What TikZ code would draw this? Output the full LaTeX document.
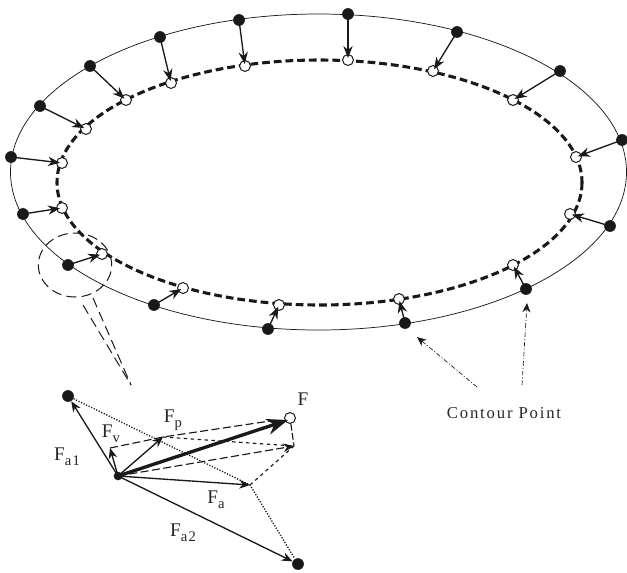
\documentclass[tikz,border=0pt]{standalone}
\usepackage{fontspec}
\setmainfont{Liberation Serif}
\usetikzlibrary{arrows.meta,backgrounds,shapes.geometric}
\newcommand{\fsub}[2]{#1\raisebox{-.6ex}{\addfontfeature{LetterSpace=8}\fontsize{11}{11}\selectfont #2}}
\tikzset{
  contourpt/.style={circle,fill=black!90,inner sep=0pt,minimum size=8.8pt},
  targetpt/.style={circle,draw=black!90,fill=white,line width=.75pt,inner sep=0pt,minimum size=8.2pt},
  pull/.style={-{Stealth[length=9pt,width=7pt]},line width=1pt,black!90},
  force/.style={-{Stealth[length=8pt,width=6.5pt]},line width=1pt,black!90},
  longdash/.style={black!90,line width=.85pt,dash pattern=on 6pt off 2.6pt},
  shortdash/.style={black!90,line width=.85pt,dash pattern=on 2.6pt off 2.6pt},
  dotline/.style={black!90,line width=1pt,dash pattern=on .9pt off 1.2pt},
  leader/.style={black!90,line width=.5pt,dash pattern=on 3.5pt off 1.5pt on .7pt off 1.5pt,
    -{Stealth[length=7pt,width=6pt]}},
  zoomline/.style={black!90,line width=.75pt,dash pattern=on 7.5pt off 4pt},
  flabel/.style={inner sep=0pt,black!85,font=\fontsize{14.5}{16}\selectfont},
}
\begin{document}
\begin{tikzpicture}[x=0.75pt,y=-0.75pt]
\useasboundingbox (0,0) rectangle (627,572);
% contour points and where they move to
\foreach \n/\ox/\oy/\ix/\iy in {1/348/14/348/60,2/457/32/433/71,3/560/71/513/100,
  4/622/140/576/157,5/610/226/570/214,6/526/289/513/265,7/405/323/399/299,
  8/268/329/279/305,9/154/305/183/288,10/68/265/102/254,11/23/214/62/208,
  12/11/157/62/163,13/40/106/86/129,14/90/66/126/100,15/160/37/171/83,16/239/20/245/66}{
  \node[contourpt] (o\n) at (\ox,\oy) {};
  \node[targetpt] (i\n) at (\ix,\iy) {};
  \draw[pull,shorten >=1.5pt] (o\n.center) -- (i\n.center);
}
\begin{scope}[on background layer]
\draw[black!90,line width=.55pt] (318.5,172) ellipse [x radius=308,y radius=158];
\draw[black!90,line width=2.3pt,dash pattern=on 5.8pt off 3pt] (319.5,182.5) ellipse [x radius=262.5,y radius=122.5];
\end{scope}
% close-up circle and its two lines
\node[draw,zoomline,ellipse,minimum width=55pt,minimum height=48pt,inner sep=0pt] (lens) at (75,265) {};
\coordinate (lensend) at (131,385);
\draw[zoomline] (83,305) -- (lensend);
\draw[zoomline] (93,298) -- (lensend);
% forces on one contour point
\node[contourpt,minimum size=6.5pt] (base) at (118,476) {};
\node[contourpt] (fa1) at (68,396) {};
\node[contourpt] (fa2) at (298,564) {};
\node[targetpt] (fend) at (290,418) {};
\coordinate (fa) at (250,485);
\coordinate (fp) at (163,437);
\coordinate (fv) at (110,448);
\coordinate (fsum) at (294,446);
\draw[dotline] (fa1) -- (fa) -- (fa2);
\draw[longdash] (fv) -- (fp) -- (270,421);
\draw[shortdash] (fp) -- (fsum);
\draw[shortdash] (fa) -- (fsum);
\draw[longdash,dash pattern=on 5pt off 2pt] (fend) -- (fsum);
\draw[longdash,-{Stealth[length=8pt,width=6.5pt]}] (base.center) -- (fsum);
\draw[force] (base.center) -- (fa1);
\draw[force] (base.center) -- (fa2);
\draw[force] (base.center) -- (fa);
\draw[force] (base.center) -- (fp);
\draw[force] (base.center) -- (fv);
\draw[-{Stealth[length=16pt,width=12pt]},black!90,line width=2.5pt] (base.center) -- (288,420);
\node[flabel] (lf) at (303,399) {F};
\node[flabel] (lfp) at (173,420) {\fsub{F}{p}};
\node[flabel] (lfv) at (111,434) {\fsub{F}{v}};
\node[flabel] (lfa1) at (67,457) {\fsub{F}{a1}};
\node[flabel] (lfa) at (216,500) {\fsub{F}{a}};
\node[flabel] (lfa2) at (183,533) {\fsub{F}{a2}};
% callout
\node[flabel,font=\fontsize{12.5}{14}\selectfont\addfontfeature{LetterSpace=11}] (contour) at (504,413) {Contour Point};
\coordinate (lead1) at (477,387);
\coordinate (lead2) at (522,385);
\draw[leader] (lead1) -- (417,337);
\draw[leader] (lead2) -- (527,303);
\end{tikzpicture}
\end{document}
